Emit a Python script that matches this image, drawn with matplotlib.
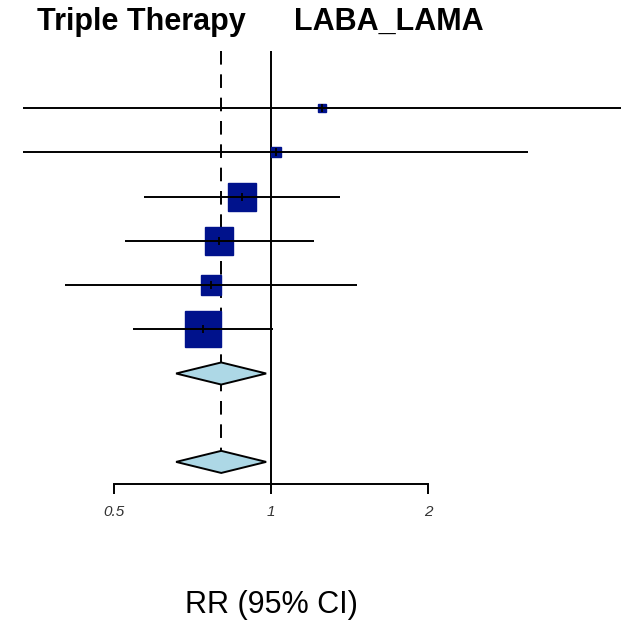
import numpy as np
import matplotlib
matplotlib.use("Agg")
import matplotlib.pyplot as plt
from matplotlib.patches import Polygon

plt.rcParams['font.family'] = ['Liberation Sans', 'DejaVu Sans']

# study estimates (RR) and 95% CI, top to bottom
rr = [1.25, 1.02, 0.88, 0.795, 0.765, 0.74]
ci_lo = [0.334, 0.334, 0.570, 0.525, 0.402, 0.543]
ci_hi = [4.69, 3.11, 1.357, 1.21, 1.459, 1.01]
weights = [1.9, 2.4, 22.8, 22.8, 10.5, 39.6]

# pooled estimates (diamonds)
pooled_rr = [0.802, 0.802]
pooled_lo = [0.657, 0.657]
pooled_hi = [0.978, 0.978]

xticks = [0.5, 1, 2]
xticklabels = ["0.5", "1", "2"]

fig = plt.figure(figsize=(6.28, 6.2), dpi=100)
ax = fig.add_axes([0.0, (620 - 484) / 620, 1.0, 442 / 620])
ax.set_xscale('log', base=2)
ax.set_xlim(0.3018, 4.837)
ax.set_ylim(-8.5, 1.5)

n = len(rr)
rows = -np.arange(n)
pooled_rows = [-6, -8]
top = 1.3

# reference lines
ax.vlines(1, -8.5, top, color='black', lw=1.4, zorder=2)
ax.plot([pooled_rr[0], pooled_rr[0]], [top, pooled_rows[-1]], color='black',
        lw=1.4, dashes=(7, 5), zorder=1)

# boxes, side proportional to sqrt(weight)
wmax = max(weights)
for y, est, w in zip(rows, rr, weights):
    side = 26.6 * np.sqrt(w / wmax)
    ax.plot(est, y, marker='s', ms=side, color='#00128C', mec='#00128C',
            lw=0, zorder=3)
    ax.plot(est, y, marker='|', ms=6, mew=1.3, color='black', zorder=5)

# CI lines over the boxes
ax.hlines(rows, ci_lo, ci_hi, color='black', lw=1.4, zorder=4)

# diamonds
h = 0.25
for y, est, lo, hi in zip(pooled_rows, pooled_rr, pooled_lo, pooled_hi):
    d = Polygon([[lo, y], [est, y + h], [hi, y], [est, y - h]], closed=True,
                facecolor='#ADD8E6', edgecolor='black', lw=1.4, zorder=4)
    ax.add_patch(d)

# axis
for s in ['top', 'left', 'right']:
    ax.spines[s].set_visible(False)
ax.spines['bottom'].set_bounds(0.5, 2)
ax.spines['bottom'].set_linewidth(1.4)
ax.set_yticks([])
ax.set_xticks(xticks)
ax.set_xticklabels(xticklabels, fontsize=11, style='italic', color='#333333')
ax.xaxis.set_minor_locator(matplotlib.ticker.NullLocator())
ax.tick_params(axis='x', direction='out', length=7, width=1.4, pad=8)

fig.text(271 / 628, (620 - 605) / 620, "RR (95% CI)", ha='center',
         va='center', fontsize=22)
fig.text(141 / 628, (620 - 22) / 620, "Triple Therapy", ha='center',
         va='center', fontsize=22, fontweight='bold')
fig.text(389 / 628, (620 - 22) / 620, "LABA_LAMA", ha='center',
         va='center', fontsize=22, fontweight='bold')

fig.savefig("out.png", dpi=100)
